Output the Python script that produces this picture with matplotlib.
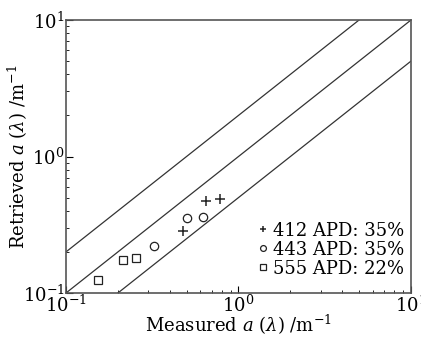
import numpy as np
from matplotlib import pyplot as plt
from matplotlib.ticker import LogLocator, NullFormatter

plt.rcParams['font.family'] = ['DejaVu Serif']
plt.rcParams['mathtext.fontset'] = 'dejavuserif'

# measured vs retrieved absorption, per wavelength
meas_412 = [0.475, 0.648, 0.781]
retr_412 = [0.285, 0.472, 0.488]
meas_443 = [0.324, 0.503, 0.620]
retr_443 = [0.222, 0.353, 0.362]
meas_555 = [0.153, 0.214, 0.254]
retr_555 = [0.1245, 0.175, 0.180]

labels = ['412 APD: 35%', '443 APD: 35%', '555 APD: 22%']
ratios = [2.0, 1.0, 0.5]  # reference lines y = k*x

fig = plt.figure(figsize=(4.21, 3.38), dpi=100)
ax = fig.add_axes((66/421, 1-293/338, 345/421, 273/338))

xx = np.array([0.1, 10.0])
for k in ratios:
    ax.plot(xx, k*xx, color='#333333', lw=0.9)

ax.plot(meas_412, retr_412, '+', color='#222222', ms=7, mew=1.1, label=labels[0])
ax.plot(meas_443, retr_443, 'o', mfc='none', mec='#222222', ms=6, mew=0.9, label=labels[1])
ax.plot(meas_555, retr_555, 's', mfc='none', mec='#222222', ms=6, mew=0.9, label=labels[2])

ax.set_xscale('log')
ax.set_yscale('log')
ax.set_xlim(0.1, 10)
ax.set_ylim(0.1, 10)

for ax_ in (ax.xaxis, ax.yaxis):
    ax_.set_minor_locator(LogLocator(base=10, subs=np.arange(2, 10)))
    ax_.set_minor_formatter(NullFormatter())
ax.tick_params(which='both', direction='in', top=False, right=False, labelsize=13, pad=1)
ax.tick_params(which='major', length=5, width=0.8)
ax.tick_params(which='minor', length=2.5, width=0.6)

for s in ax.spines.values():
    s.set_color('#555555')
    s.set_linewidth(1.2)

ax.set_xlabel(r'Measured $\mathit{a}$ ($\mathit{\lambda}$) /m$^{-1}$', fontsize=13, labelpad=-2)
ax.set_ylabel(r'Retrieved $\mathit{a}$ ($\mathit{\lambda}$) /m$^{-1}$', fontsize=13, labelpad=-5)

ax.legend(loc='lower right', bbox_to_anchor=(1.0, 0.03), frameon=False, fontsize=13,
          handlelength=0.5, handletextpad=0.25, labelspacing=0.05, borderaxespad=0,
          markerscale=0.7)

fig.savefig('out.png', dpi=100)
